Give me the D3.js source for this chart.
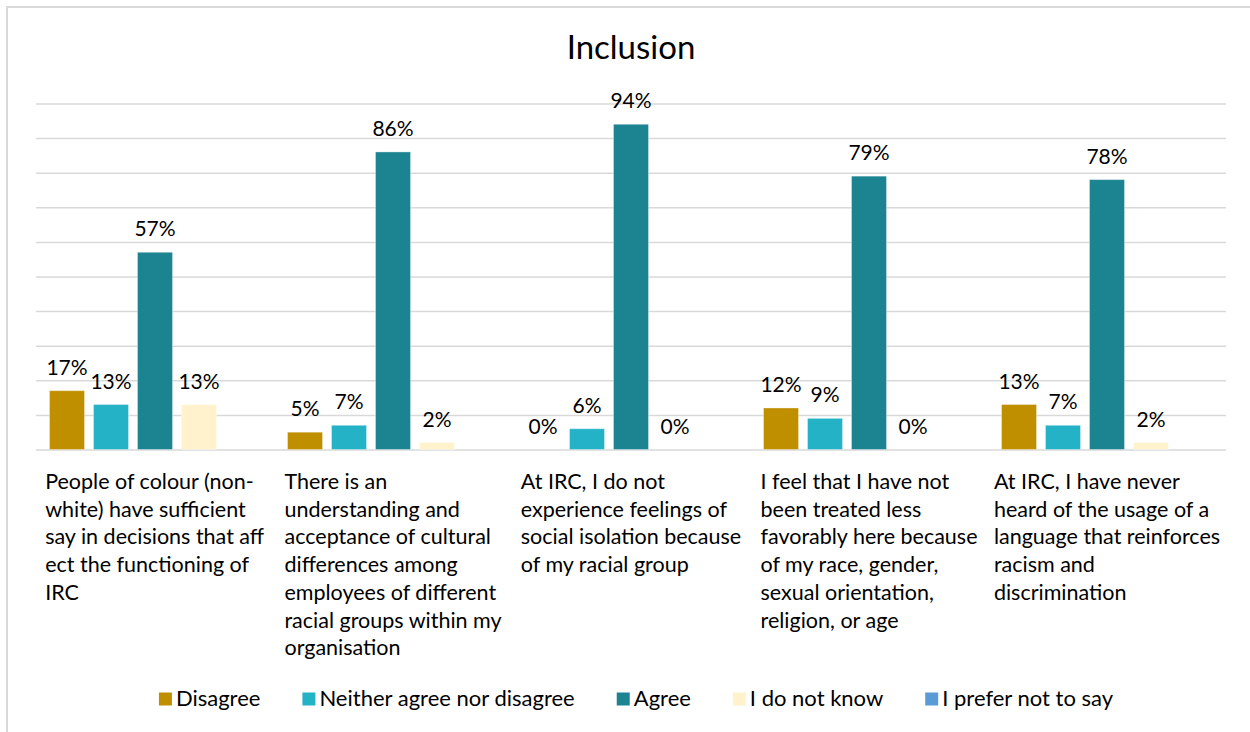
<!DOCTYPE html>
<html>
<head>
<meta charset="utf-8">
<script src="https://cdn.jsdelivr.net/npm/d3@7"></script>
<style>
  body { margin: 0; background: #fff; }
  text { font-family: "Lato", "Open Sans", sans-serif; fill: #000; }
</style>
</head>
<body>
<svg id="chart"></svg>
<script>
// chart data
const categories = ['c1', 'c2', 'c3', 'c4', 'c5'];
const categoryLines = [
  ['People of colour (non-', 'white) have sufficient', 'say in decisions that aff', 'ect the functioning of', 'IRC'],
  ['There is an', 'understanding and', 'acceptance of cultural', 'differences among', 'employees of different', 'racial groups within my', 'organisation'],
  ['At IRC, I do not', 'experience feelings of', 'social isolation because', 'of my racial group'],
  ['I feel that I have not', 'been treated less', 'favorably here because', 'of my race, gender,', 'sexual orientation,', 'religion, or age'],
  ['At IRC, I have never', 'heard of the usage of a', 'language that reinforces', 'racism and', 'discrimination']
];
const seriesNames = ['Disagree', 'Neither agree nor disagree', 'Agree', 'I do not know', 'I prefer not to say'];
const seriesColors = ['#bf8f00', '#24b2c7', '#1b8490', '#fff2cc', '#5b9bd5'];
const disagree = [0.17, 0.05, 0.00, 0.12, 0.13];
const neither  = [0.13, 0.07, 0.06, 0.09, 0.07];
const agree    = [0.57, 0.86, 0.94, 0.79, 0.78];
const dontKnow = [0.13, 0.02, 0.00, 0.00, 0.02];
const preferNot = [null, null, null, null, null];
const seriesValues = [disagree, neither, agree, dontKnow, preferNot];
const gridTicks = [0, 0.1, 0.2, 0.3, 0.4, 0.5, 0.6, 0.7, 0.8, 0.9, 1.0];

const width = 1250;
const height = 732;
const plotLeft = 36, plotRight = 1226, plotTop = 103.5, plotBottom = 449.5;

const svg = d3.select('#chart')
  .attr('width', width)
  .attr('height', height);

// outer frame (cropped at right and bottom)
svg.append('rect')
  .attr('x', 7).attr('y', 7)
  .attr('width', width + 20).attr('height', height + 20)
  .attr('fill', 'none')
  .attr('stroke', '#d9d9d9')
  .attr('stroke-width', 2);

// title
svg.append('text')
  .attr('x', (plotLeft + plotRight) / 2)
  .attr('y', 59)
  .attr('text-anchor', 'middle')
  .style('font-size', '33px')
  .text('Inclusion');

const x0 = d3.scaleBand()
  .domain(categories)
  .range([plotLeft, plotRight])
  .padding(0);

const x1 = d3.scaleBand()
  .domain(seriesNames)
  .range([0, x0.bandwidth()])
  .paddingInner(0.2045)
  .paddingOuter(0.307);

const y = d3.scaleLinear()
  .domain([0, 1])
  .range([plotBottom, plotTop]);

// gridlines
const grid = svg.append('g')
  .attr('transform', `translate(${plotLeft},0)`)
  .call(d3.axisLeft(y).tickValues(gridTicks).tickSize(-(plotRight - plotLeft)).tickFormat(''));
grid.select('.domain').remove();
grid.selectAll('.tick line')
  .attr('stroke', '#d9d9d9')
  .attr('stroke-width', 1.5);

// bars
const bars = [];
categories.forEach((c, i) => {
  seriesNames.forEach((s, j) => {
    bars.push({ cat: c, series: s, color: seriesColors[j], value: seriesValues[j][i] });
  });
});

const groups = svg.append('g');
groups.selectAll('rect')
  .data(bars.filter(d => d.value !== null))
  .join('rect')
  .attr('x', d => x0(d.cat) + x1(d.series))
  .attr('y', d => y(d.value))
  .attr('width', x1.bandwidth())
  .attr('height', d => y(0) - y(d.value))
  .attr('fill', d => d.color)
  .attr('stroke', '#ffffff')
  .attr('stroke-opacity', 0.35)
  .attr('stroke-width', 1);

// value labels
groups.selectAll('text')
  .data(bars.filter(d => d.value !== null))
  .join('text')
  .attr('x', d => x0(d.cat) + x1(d.series) + x1.bandwidth() / 2)
  .attr('y', d => y(d.value) - 16)
  .attr('text-anchor', 'middle')
  .style('font-size', '21px')
  .text(d => d3.format('.0%')(d.value));

// category labels, block centred in each band, lines left aligned
categories.forEach((c, i) => {
  const g = svg.append('g');
  const t = g.append('text').style('font-size', '21.5px');
  categoryLines[i].forEach((line, k) => {
    t.append('tspan')
      .attr('x', 0)
      .attr('y', 489 + k * 27.7)
      .text(line);
  });
  const w = t.node().getBBox().width;
  g.attr('transform', `translate(${x0(c) + x0.bandwidth() / 2 - w / 2},0)`);
});

// legend
const legend = svg.append('g');
const legendGap = 42;
let lx = 0;
seriesNames.forEach((s, j) => {
  const item = legend.append('g').attr('transform', `translate(${lx},0)`);
  item.append('rect')
    .attr('x', 0).attr('y', 692.5)
    .attr('width', 13).attr('height', 13)
    .attr('fill', seriesColors[j]);
  const t = item.append('text')
    .attr('x', 17)
    .attr('y', 706)
    .style('font-size', '22px')
    .text(s);
  lx += 17 + t.node().getComputedTextLength() + legendGap;
});
lx -= legendGap;
legend.attr('transform', `translate(${636 - lx / 2},0)`);
</script>
</body>
</html>
